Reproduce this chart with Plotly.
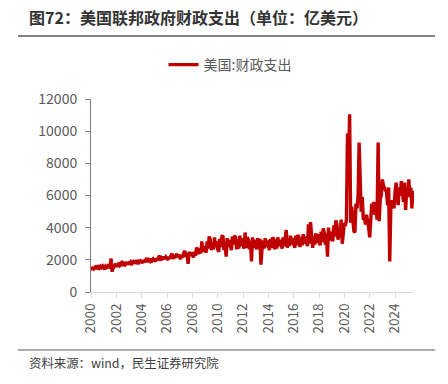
import pandas as pd
import plotly.graph_objects as go

# Monthly US federal outlays (100 million USD)
v2000 = [1480, 1390, 1560, 1450, 1520, 1640, 1410, 1550, 1480, 1600, 1530, 1620]
v2001 = [1510, 1420, 1600, 1540, 1620, 1700, 1480, 2080, 1260, 1640, 1580, 1700]
v2002 = [1690, 1580, 1720, 1650, 1780, 1830, 1640, 1760, 1700, 1850, 1750, 1820]
v2003 = [1820, 1700, 1860, 1780, 1900, 1960, 1760, 1880, 1820, 1980, 1860, 1940]
v2004 = [1900, 1800, 1980, 1880, 2020, 2100, 1860, 1990, 1920, 2080, 1970, 2060]
v2005 = [2000, 1900, 2080, 1980, 2150, 2250, 1950, 2100, 2020, 2200, 2060, 2180]
v2006 = [2080, 2000, 2180, 2080, 2300, 2380, 2050, 2250, 2120, 2380, 2200, 2330]
v2007 = [2150, 2060, 2300, 2150, 2450, 2550, 2200, 2400, 1750, 2500, 2300, 2450]
v2008 = [2300, 2150, 2500, 2250, 2750, 2650, 2350, 2700, 2400, 3150, 2500, 2850]
v2009 = [2600, 2450, 3150, 2700, 3450, 3250, 2600, 3050, 2650, 3400, 2800, 3150]
v2010 = [2650, 2500, 3300, 2800, 3450, 3500, 2600, 3100, 2200, 3350, 2800, 3250]
v2011 = [2900, 2600, 3450, 2950, 3500, 3400, 2650, 3250, 2700, 3500, 2850, 3350]
v2012 = [2950, 2700, 3700, 2750, 3400, 3250, 2650, 3200, 1900, 3400, 2750, 3250]
v2013 = [2900, 2650, 3350, 2800, 3300, 1700, 2650, 3200, 2700, 3350, 2800, 3200]
v2014 = [2850, 2600, 3300, 2750, 3400, 3300, 2650, 3250, 2700, 3400, 2850, 3250]
v2015 = [2950, 2700, 3400, 2850, 3350, 3850, 2750, 3300, 2850, 3500, 2950, 3350]
v2016 = [3000, 2750, 3500, 2900, 3550, 3400, 2800, 3400, 2900, 3600, 3000, 3450]
v2017 = [3100, 2850, 4200, 3000, 4350, 3500, 2750, 3450, 2950, 3650, 3050, 3600]
v2018 = [3200, 2900, 3750, 3100, 3950, 3700, 2950, 3650, 2200, 4000, 3200, 3750]
v2019 = [3400, 3150, 4150, 3450, 4450, 4200, 3250, 3950, 3400, 4500, 3000, 4050]
v2020 = [4300, 4100, 4500, 9850, 8000, 11050, 4300, 5300, 4700, 3800, 3700, 5500]
v2021 = [5200, 6000, 9300, 6100, 5000, 5900, 4500, 4600, 4200, 4800, 4500, 4000]
v2022 = [3400, 4700, 5500, 5200, 5600, 4800, 5300, 4500, 9300, 4400, 5800, 6000]
v2023 = [7000, 6600, 6500, 6400, 6200, 5400, 6500, 1900, 5200, 5700, 5500, 5200]
v2024 = [6200, 6800, 6000, 5400, 6500, 6000, 6900, 6400, 5600, 6800, 5100, 6300]
v2025 = [6100, 7000, 5900, 6500, 5200, 6300]

values = (v2000 + v2001 + v2002 + v2003 + v2004 + v2005 + v2006 + v2007 + v2008
          + v2009 + v2010 + v2011 + v2012 + v2013 + v2014 + v2015 + v2016 + v2017
          + v2018 + v2019 + v2020 + v2021 + v2022 + v2023 + v2024 + v2025)
dates = pd.date_range("2000-01-01", periods=len(values), freq="MS")

series_name = "美国:财政支出"
title_text = "图72：美国联邦政府财政支出（单位：亿美元）"
source_text = "资料来源：wind，民生证券研究院"

FONT = "Noto Sans CJK SC"
RED = "#C00000"
GRAY = "#595959"

fig = go.Figure()
fig.add_trace(go.Scatter(x=dates, y=values, mode="lines", name=series_name,
                         line=dict(color=RED, width=3.4)))

L, R, T, B = 91, 34, 99, 92
W, H = 448, 384
pw, ph = W - L - R, H - T - B

def px(x):
    return (x - L) / pw

def py(y):
    return (H - B - y) / ph

fig.update_layout(
    width=W, height=H,
    margin=dict(l=L, r=R, t=T, b=B),
    paper_bgcolor="white", plot_bgcolor="white",
    font=dict(family=FONT, color=GRAY, size=13),
    showlegend=True,
    legend=dict(orientation="h", x=px(230), xanchor="center", y=py(65), yanchor="middle",
                font=dict(size=14, color=GRAY, family=FONT), bgcolor="rgba(0,0,0,0)"),
    xaxis=dict(type="date", range=["2000-01-01", "2025-07-01"], dtick="M24", tick0="2000-01-01",
               tickformat="%Y", tickangle=-90, showgrid=False, zeroline=False,
               showline=True, linecolor="#d9d9d9", linewidth=1,
               ticks="outside", ticklen=5, tickcolor="#d9d9d9",
               tickfont=dict(size=13.5, color=GRAY, family=FONT)),
    yaxis=dict(range=[0, 12000], dtick=2000, tickformat="d", showgrid=False, zeroline=False,
               showline=True, linecolor="#7f7f7f", linewidth=1,
               ticks="outside", ticklen=5, tickcolor="#7f7f7f", ticklabelstandoff=5,
               tickfont=dict(size=14, color=GRAY, family=FONT)),
    annotations=[
        dict(text="<b>" + title_text + "</b>", xref="paper", yref="paper",
             x=px(27), y=py(17), xanchor="left", yanchor="middle", showarrow=False,
             font=dict(size=16, color="#333333", family=FONT)),
        dict(text=source_text, xref="paper", yref="paper",
             x=px(27), y=py(363), xanchor="left", yanchor="middle", showarrow=False,
             font=dict(size=12.4, color="#404040", family=FONT)),
    ],
    shapes=[
        dict(type="line", xref="paper", yref="paper", x0=px(18), x1=px(435),
             y0=py(36), y1=py(36), line=dict(color="#595959", width=1.5)),
        dict(type="line", xref="paper", yref="paper", x0=px(18), x1=px(435),
             y0=py(350), y1=py(350), line=dict(color="#595959", width=1.2)),
    ],
)

fig.write_html("out.html", config={"displayModeBar": False},
               post_script="document.body.style.margin='0';")
